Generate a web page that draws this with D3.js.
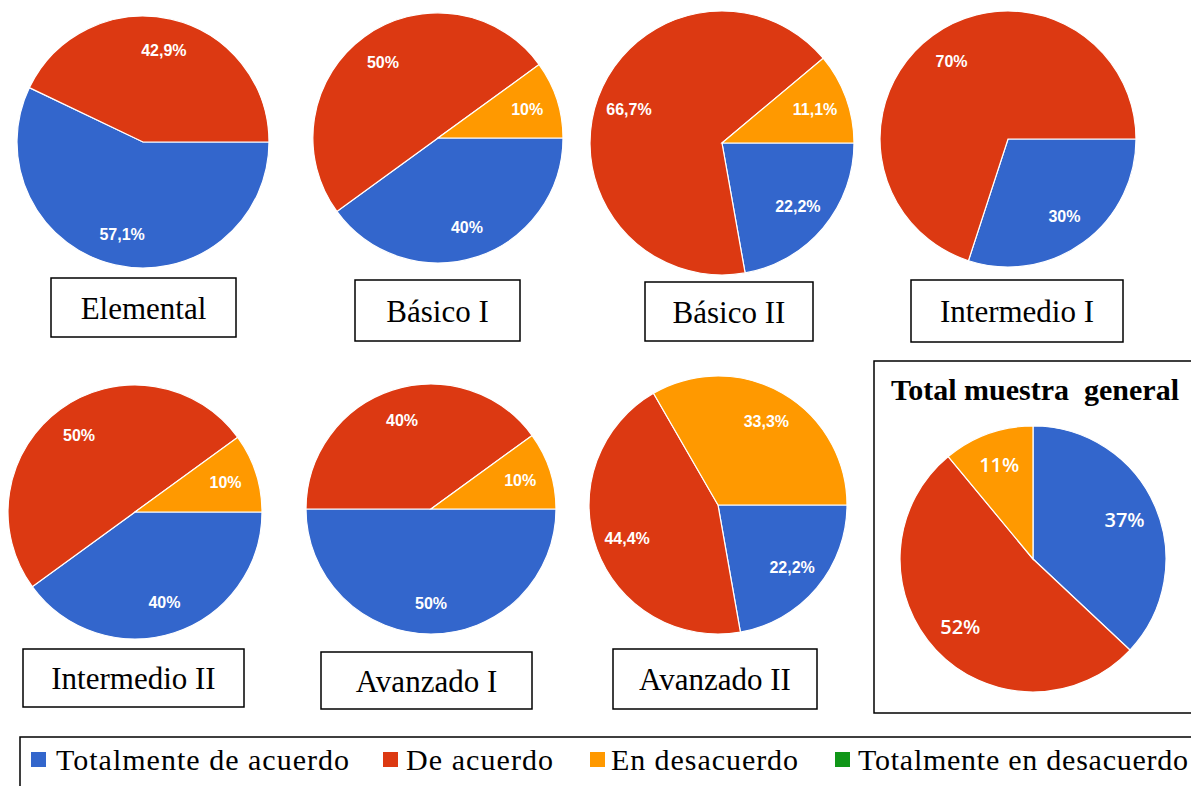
<!DOCTYPE html>
<html>
<head>
<meta charset="utf-8">
<script src="https://cdn.jsdelivr.net/npm/d3@7"></script>
<style>
  body { margin: 0; background: #fff; }
  svg { display: block; }
</style>
</head>
<body>
<div id="chart"></div>
<script>
// levels of the course and answer categories
const levels = ["Elemental", "Básico I", "Básico II", "Intermedio I", "Intermedio II", "Avanzado I", "Avanzado II"];
const categories = ["Totalmente de acuerdo", "De acuerdo", "En desacuerdo", "Totalmente en desacuerdo"];

// percentages per level (same order as levels)
const totalmenteDeAcuerdo = [57.1, 40, 22.2, 30, 40, 50, 22.2];
const deAcuerdo = [42.9, 50, 66.7, 70, 50, 40, 44.4];
const enDesacuerdo = [0, 10, 11.1, 0, 10, 10, 33.3];
const totalmenteEnDesacuerdo = [0, 0, 0, 0, 0, 0, 0];

// whole sample
const generalTitle = "Total muestra  general";
const generalValues = [37, 52, 11, 0];

const colors = ["#3366cc", "#dc3912", "#ff9900", "#109618"];

// where each small pie and its caption box sit
const layout = [
    { cx: 143, cy: 142, r: 126, box: [51, 278, 185, 59] },
    { cx: 438, cy: 138, r: 125, box: [355, 280, 165, 61] },
    { cx: 722, cy: 143, r: 132, box: [645, 282, 168, 59] },
    { cx: 1008, cy: 139, r: 128, box: [911, 280, 212, 62] },
    { cx: 135, cy: 512, r: 127, box: [23, 649, 221, 58] },
    { cx: 431, cy: 509, r: 125, box: [321, 652, 211, 57] },
    { cx: 718, cy: 505, r: 129, box: [613, 649, 204, 60] }
];

// legend item placement
const legendSquareX = [31, 383, 590, 835];
const legendTextX = [56, 406, 611, 858];
const legendTextW = [293, 147, 187, 330];

const width = 1191, height = 786;

const svg = d3.select("#chart")
    .append("svg")
    .attr("width", width)
    .attr("height", height);

const fmt = v => String(v).replace(".", ",") + "%";

const drawPie = (g, values, r, startAngle, labelFont) => {
    const pie = d3.pie()
        .sort(null)
        .value(d => d.value)
        .startAngle(startAngle)
        .endAngle(startAngle + 2 * Math.PI);

    const data = values.map((v, i) => ({ value: v, color: colors[i] }));
    const arcs = pie(data).filter(d => d.data.value > 0);

    const arc = d3.arc().innerRadius(0).outerRadius(r);
    const labelArc = d3.arc().innerRadius(r * 0.75).outerRadius(r * 0.75);

    g.selectAll("path")
        .data(arcs)
        .enter()
        .append("path")
        .attr("d", arc)
        .style("fill", d => d.data.color)
        .style("stroke", "#fff")
        .style("stroke-width", 1.2);

    g.selectAll("text")
        .data(arcs)
        .enter()
        .append("text")
        .attr("transform", d => `translate(${labelArc.centroid(d)})`)
        .attr("text-anchor", "middle")
        .attr("dy", "0.36em")
        .style("fill", "#fff")
        .style("font-family", labelFont.family)
        .style("font-size", labelFont.size)
        .style("font-weight", labelFont.weight)
        .text(d => fmt(d.data.value));
};

// small pies, one per level
levels.forEach((level, i) => {
    const L = layout[i];
    const values = [totalmenteDeAcuerdo[i], deAcuerdo[i], enDesacuerdo[i], totalmenteEnDesacuerdo[i]];

    const g = svg.append("g").attr("transform", `translate(${L.cx}, ${L.cy})`);
    drawPie(g, values, L.r, Math.PI / 2, { family: "'Liberation Sans', Arial, sans-serif", size: "16px", weight: "bold" });

    const [bx, by, bw, bh] = L.box;
    svg.append("rect")
        .attr("x", bx).attr("y", by)
        .attr("width", bw).attr("height", bh)
        .style("fill", "#fff")
        .style("stroke", "#000")
        .style("stroke-width", 1.5);

    svg.append("text")
        .attr("x", bx + bw / 2)
        .attr("y", by + bh / 2 + 11)
        .attr("text-anchor", "middle")
        .style("font-family", "'Liberation Serif', 'Times New Roman', serif")
        .style("font-size", "31px")
        .text(level);
});

// general sample box (runs off the right edge)
svg.append("rect")
    .attr("x", 874).attr("y", 361)
    .attr("width", 400).attr("height", 352)
    .style("fill", "#fff")
    .style("stroke", "#000")
    .style("stroke-width", 1.5);

svg.append("text")
    .attr("x", 891)
    .attr("y", 400)
    .attr("xml:space", "preserve")
    .style("white-space", "pre")
    .style("font-family", "'Liberation Serif', 'Times New Roman', serif")
    .style("font-size", "30px")
    .style("font-weight", "bold")
    .text(generalTitle);

const gTotal = svg.append("g").attr("transform", "translate(1033, 559)");
drawPie(gTotal, generalValues, 133, 0, { family: "'Open Sans', sans-serif", size: "20px", weight: "600" });

// legend
svg.append("rect")
    .attr("x", 20).attr("y", 737)
    .attr("width", 1200).attr("height", 100)
    .style("fill", "#fff")
    .style("stroke", "#000")
    .style("stroke-width", 1.5);

const legend = svg.selectAll(".legend")
    .data(categories)
    .enter()
    .append("g")
    .attr("class", "legend");

legend.append("rect")
    .attr("x", (d, i) => legendSquareX[i])
    .attr("y", 752)
    .attr("width", 15).attr("height", 15)
    .style("fill", (d, i) => colors[i]);

legend.append("text")
    .attr("x", (d, i) => legendTextX[i])
    .attr("y", 770)
    .attr("textLength", (d, i) => legendTextW[i])
    .attr("lengthAdjust", "spacing")
    .style("font-family", "'Liberation Serif', 'Times New Roman', serif")
    .style("font-size", "30px")
    .text(d => d);
</script>
</body>
</html>
